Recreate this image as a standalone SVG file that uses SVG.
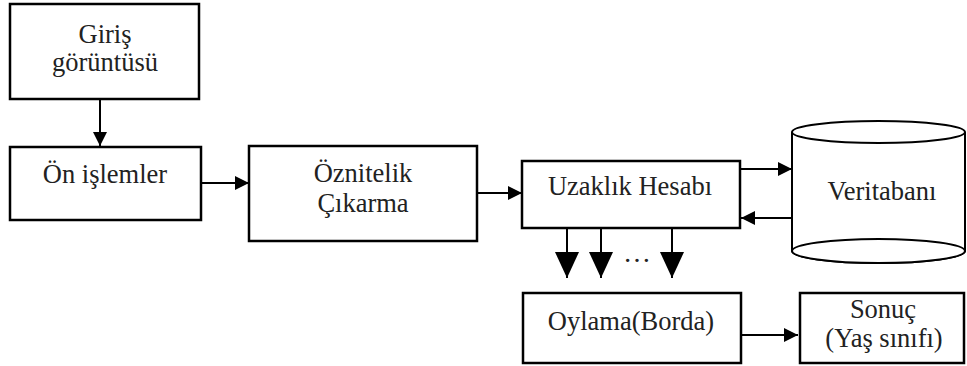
<svg xmlns="http://www.w3.org/2000/svg" width="967" height="366" viewBox="0 0 967 366">
<style>
.box{fill:#fff;stroke:#000;stroke-width:2.5}
.cyl{fill:#fff;stroke:#000;stroke-width:2}
.t{font-family:"Liberation Serif","Times New Roman",serif;font-size:26.5px;fill:#222;text-anchor:middle}
.c{stroke:#000;stroke-width:2;fill:none}
</style>
<defs>
<marker id="ah" markerUnits="userSpaceOnUse" markerWidth="14" markerHeight="14" viewBox="0 0 14 14" refX="14" refY="7" orient="auto">
<path d="M0,0 L14,7 L0,14 Z" fill="#000"/>
</marker>
<marker id="big" markerUnits="userSpaceOnUse" markerWidth="26" markerHeight="24" viewBox="0 0 26 24" refX="26" refY="12" orient="auto">
<path d="M0,0 L26,12 L0,24 Z" fill="#000"/>
</marker>
</defs>
<g id="giris">
<rect class="box" x="10" y="4" width="189" height="95"/>
<text class="t" x="105" y="43">Giriş</text>
<text class="t" x="105" y="71">görüntüsü</text>
</g>
<g id="on-islemler">
<rect class="box" x="10" y="147" width="191" height="73"/>
<text class="t" x="105" y="183">Ön işlemler</text>
</g>
<g id="oznitelik">
<rect class="box" x="249" y="146" width="228" height="95"/>
<text class="t" x="363" y="182">Öznitelik</text>
<text class="t" x="363" y="212">Çıkarma</text>
</g>
<g id="uzaklik">
<rect class="box" x="522" y="161" width="218" height="67"/>
<text class="t" x="630" y="195">Uzaklık Hesabı</text>
</g>
<g id="veritabani">
<path class="cyl" d="M792,132 L792,251 A86.5,12 0 0 0 965,251 L965,132"/>
<ellipse class="cyl" cx="878.5" cy="132" rx="86.5" ry="11"/>
<ellipse class="cyl" cx="878.5" cy="251" rx="86.5" ry="12"/>
<text class="t" x="882" y="200">Veritabanı</text>
</g>
<g id="oylama">
<rect class="box" x="523" y="293" width="218" height="70"/>
<text class="t" x="631" y="330">Oylama(Borda)</text>
</g>
<g id="sonuc">
<rect class="box" x="800" y="293" width="164" height="70"/>
<text class="t" x="883" y="318">Sonuç</text>
<text class="t" x="884" y="347">(Yaş sınıfı)</text>
</g>
<g id="connectors">
<line class="c" x1="100" y1="99" x2="100" y2="146" marker-end="url(#ah)"/>
<line class="c" x1="201" y1="183" x2="249" y2="183" marker-end="url(#ah)"/>
<line class="c" x1="477" y1="193" x2="522" y2="193" marker-end="url(#ah)"/>
<line class="c" x1="740" y1="169" x2="792" y2="169" marker-end="url(#ah)"/>
<line class="c" x1="792" y1="218" x2="741" y2="218" marker-end="url(#ah)"/>
<line class="c" x1="567" y1="228" x2="567" y2="278" marker-end="url(#big)"/>
<line class="c" x1="601" y1="228" x2="601" y2="278" marker-end="url(#big)"/>
<line class="c" x1="672" y1="228" x2="672" y2="278" marker-end="url(#big)"/>
<text class="t" x="637" y="262" style="font-size:28px">…</text>
<line class="c" x1="741" y1="335" x2="798" y2="335" marker-end="url(#ah)"/>
</g>
</svg>
